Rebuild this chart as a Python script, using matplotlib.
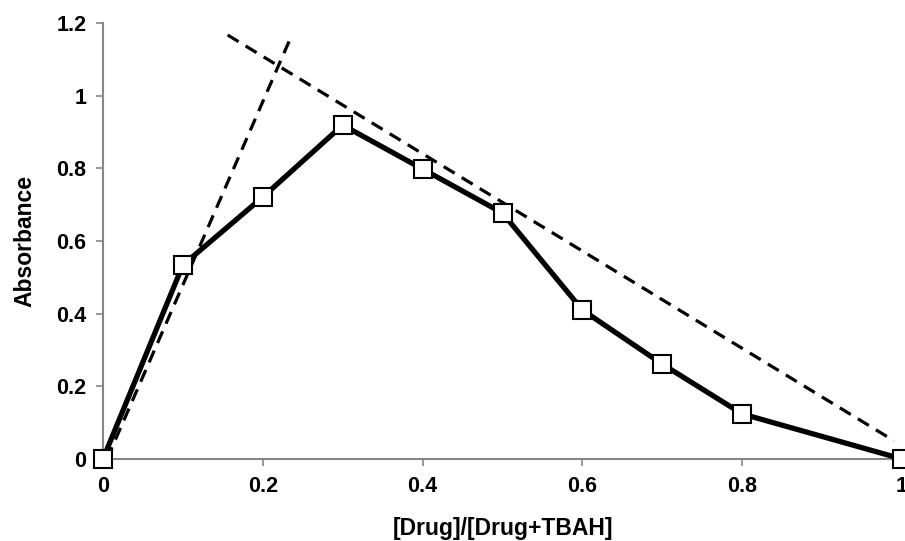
import matplotlib
matplotlib.use("Agg")
import matplotlib.pyplot as plt

x_vals = [0, 0.1, 0.2, 0.3, 0.4, 0.5, 0.6, 0.7, 0.8, 1.0]
absorbance = [0.0, 0.534, 0.721, 0.919, 0.798, 0.677, 0.41, 0.261, 0.124, 0.0]

tangent1_x = [0.005, 0.234]
tangent1_y = [0.0, 1.155]
tangent2_x = [0.156, 0.99]
tangent2_y = [1.167, 0.05]

xticks = [0, 0.2, 0.4, 0.6, 0.8, 1.0]
xticklabels = ["0", "0.2", "0.4", "0.6", "0.8", "1"]
yticks = [0, 0.2, 0.4, 0.6, 0.8, 1.0, 1.2]
yticklabels = ["0", "0.2", "0.4", "0.6", "0.8", "1", "1.2"]

plt.rcParams['font.family'] = ['Liberation Sans', 'DejaVu Sans']

fig = plt.figure(figsize=(9.05, 5.41), dpi=100)
ax = fig.add_axes([0.1138, 0.1516, 0.8829, 0.8059])

ax.plot(tangent1_x, tangent1_y, color='black', lw=2.3, ls=(0, (4, 2.6)), clip_on=False, zorder=2)
ax.plot(tangent2_x, tangent2_y, color='black', lw=2.3, ls=(0, (4, 2.6)), clip_on=False, zorder=2)
ax.plot(x_vals, absorbance, color='black', lw=3.8, marker='s', markersize=13.5,
        markerfacecolor='white', markeredgecolor='black', markeredgewidth=1.5,
        clip_on=False, zorder=3)

ax.set_xlim(0, 1)
ax.set_ylim(0, 1.2)
ax.set_xticks(xticks)
ax.set_xticklabels(xticklabels)
ax.set_yticks(yticks)
ax.set_yticklabels(yticklabels)

for s in ['top', 'right']:
    ax.spines[s].set_visible(False)
for s in ['left', 'bottom']:
    ax.spines[s].set_color('#868686')
    ax.spines[s].set_linewidth(1.5)

ax.tick_params(axis='both', direction='out', color='#868686', width=1.2, length=5,
               labelsize=15.5, pad=7)
for lab in ax.get_xticklabels() + ax.get_yticklabels():
    lab.set_fontweight('bold')

ax.set_xlabel('[Drug]/[Drug+TBAH]', fontsize=16.5, fontweight='bold', labelpad=15)
ax.set_ylabel('Absorbance', fontsize=16.5, fontweight='bold', labelpad=14)

fig.savefig('out.png', dpi=100)
